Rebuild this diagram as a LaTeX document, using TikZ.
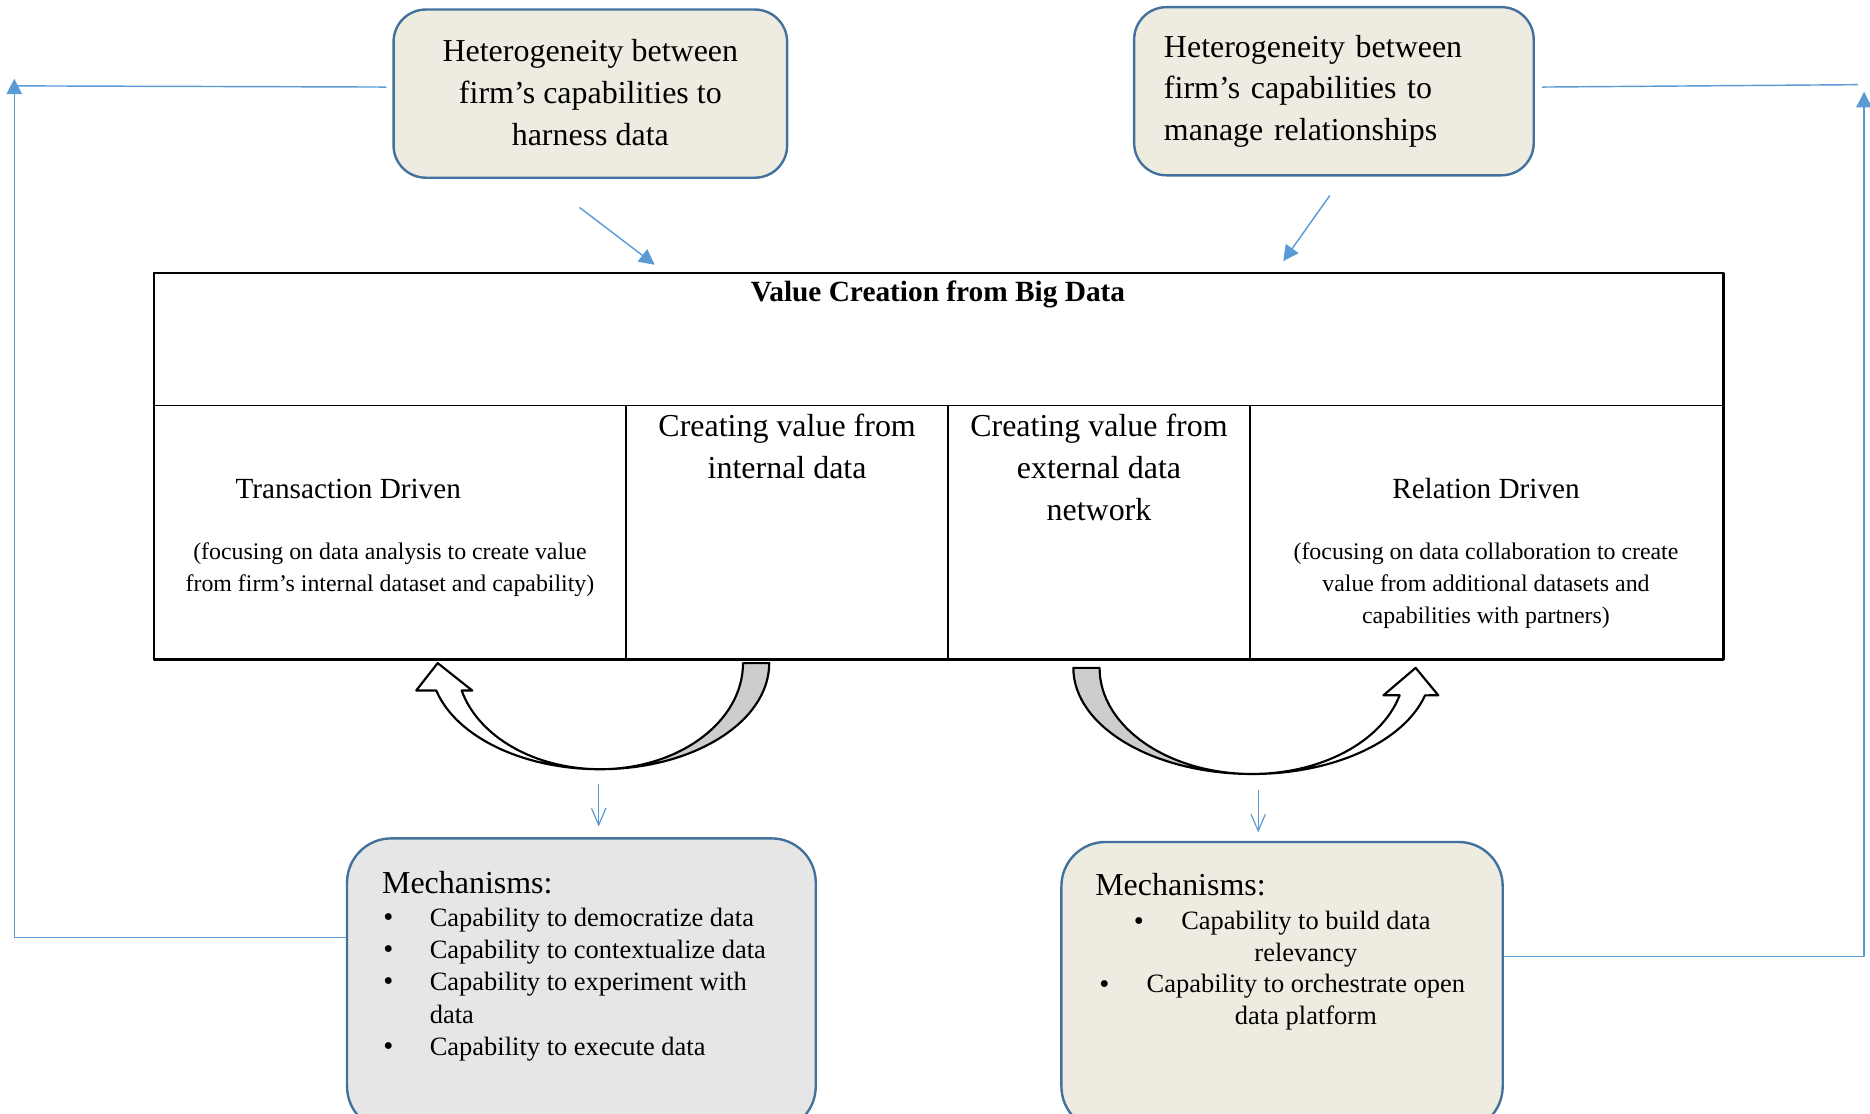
\documentclass[tikz,border=0pt]{standalone}
\usepackage{fontspec}
\setmainfont{Liberation Serif}
\usetikzlibrary{arrows.meta,positioning}
\definecolor{boxblue}{HTML}{41719C}
\definecolor{linkblue}{HTML}{5B9BD5}
\definecolor{beigefill}{HTML}{EEECE1}
\definecolor{greyfill}{HTML}{E7E6E6}
\definecolor{bandgray}{HTML}{CDCDCD}
\begin{document}
\begin{tikzpicture}[x=0.5pt,y=0.5pt,line join=round,
	hetbox/.style={draw=boxblue,line width=1pt,fill=beigefill,rounded corners=13.5pt,minimum height=70.5pt,inner sep=0pt,font=\fontsize{13.4}{17.5}\selectfont},
	mechbox/.style={draw=boxblue,line width=1pt,rounded corners=18.5pt,inner sep=0pt},
	cell/.style={draw,line width=0.6pt,minimum height=106.5pt,inner sep=0pt,outer sep=0pt},
	feedline/.style={draw=linkblue,line width=0.6pt},
	feedback/.style={feedline,-{Triangle[length=6.5pt,width=6.5pt]}},
	downlink/.style={draw=linkblue,line width=0.5pt,-{Straight Barb[length=7pt,width=6pt]}},
	bandback/.style={fill=bandgray,draw=black,line width=0.9pt},
	bandfront/.style={fill=white,draw=black,line width=0.9pt},
	bigtxt/.style={font=\fontsize{13.4}{17.5}\selectfont,align=center,inner sep=0pt},
	midtxt/.style={font=\fontsize{12.25}{15}\selectfont,inner sep=0pt},
	smalltxt/.style={font=\fontsize{10}{13.5}\selectfont,align=center,inner sep=0pt},
	listtxt/.style={font=\fontsize{11.1}{13.5}\selectfont,inner sep=0pt}]
	\useasboundingbox (0,0) rectangle (1568,934);
	\node[hetbox,minimum width=165pt,align=center] (hd) at (495,855.5) {\raisebox{1pt}{Heterogeneity between}\\\raisebox{1pt}{firm’s capabilities to}\\\raisebox{1pt}{harness data}};
	\node[hetbox,minimum width=167.5pt,text width=142.5pt,align=left] (hr) at (1118.5,857.5) {Heterogeneity between\\firm’s capabilities to\\manage relationships};
	\node[cell,minimum width=658pt,minimum height=55.5pt] (vc) at (787,649.5) {};
	\node[cell,minimum width=198pt] (td) at (327,487.5) {};
	\node[cell,minimum width=135pt] (ci) at (660,487.5) {};
	\node[cell,minimum width=126.5pt] (ce) at (921.5,487.5) {};
	\node[cell,minimum width=198.5pt] (rd) at (1246.5,487.5) {};
	\draw[line width=1pt] (vc.north west) rectangle (rd.south east);
	\node[midtxt,font=\fontsize{12.3}{15}\selectfont\bfseries] (vct) at (786.5,687) {Value Creation from Big Data};
	\node[midtxt] (tdt) at (292,524) {Transaction Driven};
	\node[smalltxt] (tds) at (327,456.5) {(focusing on data analysis to create value\\from firm’s internal dataset and capability)};
	\node[bigtxt] (cit) at (660,559.5) {Creating value from\\internal data};
	\node[bigtxt] (cet) at (921.5,542) {Creating value from\\external data\\network};
	\node[midtxt] (rdt) at (1246,524) {Relation Driven};
	\node[smalltxt] (rds) at (1246,443) {(focusing on data collaboration to create\\value from additional datasets and\\capabilities with partners)};
	\draw[feedback] ([xshift=-4.5pt,yshift=-12pt]hd.south) -- ([xshift=-119pt,yshift=3.5pt]vc.north);
	\draw[feedback] ([xshift=-1.75pt,yshift=-8pt]hr.south) -- ([xshift=144.5pt,yshift=5pt]vc.north);
	\filldraw[bandback] (645,378) arc[start angle=0,end angle=-90,x radius=71pt,y radius=44.5pt] coordinate (lc) arc[start angle=-90,end angle=0,x radius=60pt,y radius=44.5pt] -- cycle;
	\filldraw[bandfront] (lc) arc[start angle=270,end angle=195,x radius=71pt,y radius=44.5pt] -- (349,355) -- (367,378) -- (396,355) -- (387.1,355) arc[start angle=195,end angle=270,x radius=60pt,y radius=44.5pt] -- cycle;
	\filldraw[bandback] (900,374) arc[start angle=180,end angle=270,x radius=75pt,y radius=44.5pt] coordinate (rc) arc[start angle=270,end angle=180,x radius=64pt,y radius=44.5pt] -- cycle;
	\filldraw[bandfront] (rc) arc[start angle=270,end angle=345,x radius=75pt,y radius=44.5pt] -- (1206,351) -- (1187,374) -- (1160,351) -- (1173.6,351) arc[start angle=345,end angle=270,x radius=64pt,y radius=44.5pt] -- cycle;
	\node[mechbox,fill=greyfill,minimum width=196.5pt,minimum height=122.5pt] (bl) at (487.5,108.5) {};
	\node[mechbox,fill=beigefill,minimum width=185pt,minimum height=121pt] (br) at (1075,107) {};
	\draw[downlink] ([xshift=-0.5pt,yshift=-6pt]lc) -- ([xshift=7.25pt,yshift=4.5pt]bl.north);
	\draw[downlink] ([xshift=2.5pt,yshift=-6.5pt]rc) -- ([xshift=-10pt,yshift=3.5pt]br.north);
	\node[bigtxt,anchor=west] (blh) at (320,194) {Mechanisms:};
	\node[listtxt,anchor=west,align=left] (bll) at (320,108.5) {\makebox[20pt][l]{\hspace{0.5pt}\large\textbullet}Capability to democratize data\\
		\makebox[20pt][l]{\hspace{0.5pt}\large\textbullet}Capability to contextualize data\\
		\makebox[20pt][l]{\hspace{0.5pt}\large\textbullet}Capability to experiment with\\
		\hspace*{20pt}data\\
		\makebox[20pt][l]{\hspace{0.5pt}\large\textbullet}Capability to execute data};
	\node[bigtxt,anchor=west] (brh) at (918,192) {Mechanisms:};
	\node[listtxt,align=center,font=\fontsize{11.1}{13.2}\selectfont] (brl) at (1095,120) {Capability to build data\\relevancy\\Capability to orchestrate open\\data platform};
	\node[listtxt,font=\large] (brb1) at (955,159) {\textbullet};
	\node[listtxt,font=\large] (brb2) at (926,106) {\textbullet};
	\coordinate (lt) at (12,862);
	\coordinate (lb) at (12,148);
	\coordinate (ltip) at (12,868);
	\draw[feedline] ([xshift=-2.5pt,yshift=2.75pt]hd.west) -- (lt);
	\draw[feedback] ([yshift=19.75pt]bl.west) -- (lb) -- (ltip);
	\coordinate (rt) at (1558,863);
	\coordinate (rb) at (1563,132);
	\coordinate (rtip) at (1563,857);
	\draw[feedline] ([xshift=3pt,yshift=1.75pt]hr.east) -- (rt);
	\draw[feedback] ([yshift=12.5pt]br.east) -- (rb) -- (rtip);
\end{tikzpicture}
\end{document}
